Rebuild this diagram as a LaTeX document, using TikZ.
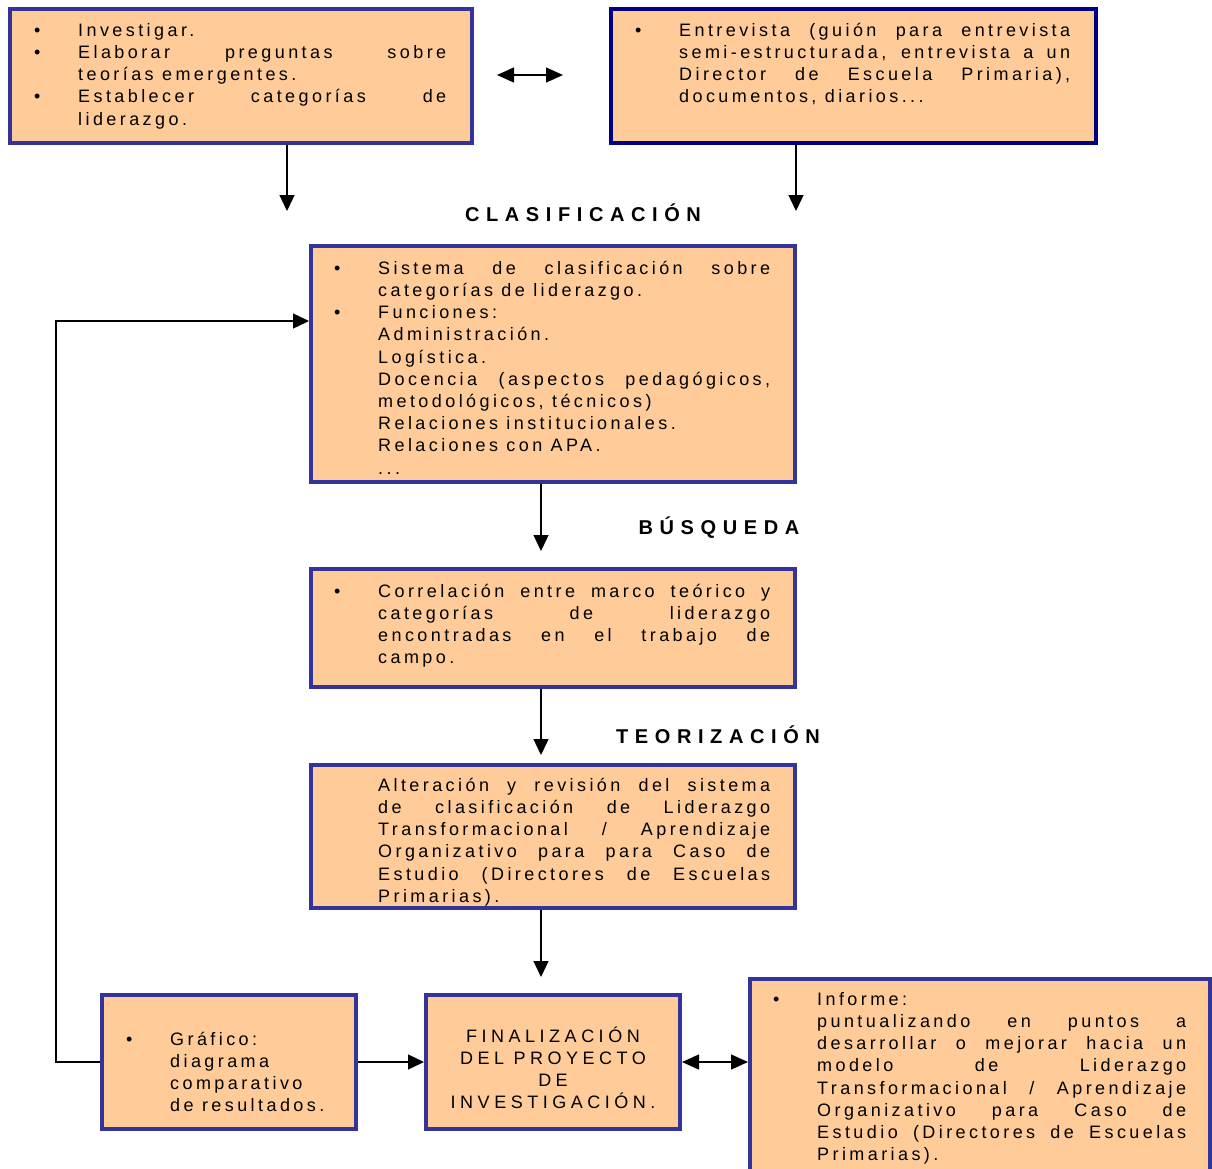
\documentclass[tikz,border=0pt]{standalone}
\usepackage{fontspec}
\setmainfont{Liberation Sans}
\newfontfamily\bodyfont[LetterSpace=19]{Liberation Sans}
\newfontfamily\wideBodyfont[LetterSpace=25]{Liberation Sans}
\newfontfamily\headfont[LetterSpace=33]{Liberation Sans}
\usetikzlibrary{arrows.meta}

\definecolor{peach}{HTML}{FFCC99}
\definecolor{frameblue}{HTML}{333399}
\definecolor{framenavy}{HTML}{000080}

\newlength\lw
% justified line, left-aligned (last) line, and a hanging bullet
\newcommand\jline[1]{\strut\makebox[\lw][s]{#1}}
\newcommand\lline[1]{\strut\makebox[\lw][l]{#1}}
\newcommand\bul{\llap{\makebox[44pt][l]{\textbullet}}}

\tikzset{
  box/.style={draw=frameblue, fill=peach, line width=4pt, rectangle, inner sep=0pt},
  navybox/.style={box, draw=framenavy},
  body/.style={anchor=north west, inner sep=0pt, align=left,
    font=\bodyfont\fontsize{18}{22.2}\selectfont},
  head/.style={anchor=base, inner sep=0pt, font=\headfont\bfseries\fontsize{20}{24}\selectfont},
  arr/.style={line width=1.3pt, -{Triangle[width=15pt,length=16pt]}},
  arrtwo/.style={line width=1.3pt, {Triangle[width=15pt,length=17pt]}-{Triangle[width=15pt,length=17pt]}}
}

\begin{document}
\begin{tikzpicture}[x=1pt, y=-1pt]
\useasboundingbox (0,0) rectangle (1212,1168);
\clip (0,0) rectangle (1212,1168);

% boxes
\node[box, minimum width=462pt, minimum height=134pt] (boxA) at (241,76) {};
\node[navybox, minimum width=485pt, minimum height=134pt] (boxB) at (853.5,76) {};
\node[box, minimum width=484pt, minimum height=236pt] (boxC) at (553,364) {};
\node[box, minimum width=484pt, minimum height=118pt] (boxD) at (553,628) {};
\node[box, minimum width=484pt, minimum height=143pt] (boxE) at (553,836.5) {};
\node[box, minimum width=254pt, minimum height=134pt] (boxG) at (229,1062) {};
\node[box, minimum width=254pt, minimum height=134pt] (boxF) at (553,1062) {};
\node[box, minimum width=460pt, minimum height=241pt] (boxH) at (980,1099.5) {};

% texts
\setlength\lw{368pt}
\node[body] (txtA) at (78,20.5) {%
  \bul\lline{Investigar.}\\
  \bul\jline{Elaborar preguntas sobre}\\
  \lline{teorías emergentes.}\\
  \bul\jline{Establecer categorías de}\\
  \lline{liderazgo.}};

\setlength\lw{391pt}
\node[body] (txtB) at (679,20.5) {%
  \bul\jline{Entrevista (guión para entrevista}\\
  \jline{semi-estructurada, entrevista a un}\\
  \jline{Director de Escuela Primaria),}\\
  \lline{documentos, diarios...}};

\setlength\lw{392pt}
\node[body] (txtC) at (378,258.5) {%
  \bul\jline{Sistema de clasificación sobre}\\
  \lline{categorías de liderazgo.}\\
  \bul\lline{Funciones:}\\
  \lline{Administración.}\\
  \lline{Logística.}\\
  \jline{Docencia (aspectos pedagógicos,}\\
  \lline{metodológicos, técnicos)}\\
  \lline{Relaciones institucionales.}\\
  \lline{Relaciones con APA.}\\
  \lline{...}};

\node[body] (txtD) at (378,581.5) {%
  \bul\jline{Correlación entre marco teórico y}\\
  \jline{categorías de liderazgo}\\
  \jline{encontradas en el trabajo de}\\
  \lline{campo.}};

\node[body] (txtE) at (378,775.5) {%
  \jline{Alteración y revisión del sistema}\\
  \jline{de clasificación de Liderazgo}\\
  \jline{Transformacional / Aprendizaje}\\
  \jline{Organizativo para para Caso de}\\
  \jline{Estudio (Directores de Escuelas}\\
  \lline{Primarias).}};

\setlength\lw{180pt}
\node[body] (txtG) at (170,1029.5) {%
  \bul\lline{Gráfico:}\\
  \lline{diagrama}\\
  \lline{comparativo}\\
  \lline{de resultados.}};

\node[body, anchor=north, align=center, font=\wideBodyfont\fontsize{18}{22.2}\selectfont]
  (txtF) at (553,1026.5) {%
  \strut FINALIZACIÓN\\ DEL PROYECTO\\ DE\\ INVESTIGACIÓN.};

\setlength\lw{369pt}
\node[body] (txtH) at (817,989.5) {%
  \bul\lline{Informe:}\\
  \jline{puntualizando en puntos a}\\
  \jline{desarrollar o mejorar hacia un}\\
  \jline{modelo de Liderazgo}\\
  \jline{Transformacional / Aprendizaje}\\
  \jline{Organizativo para Caso de}\\
  \jline{Estudio (Directores de Escuelas}\\
  \lline{Primarias).}};

% stage headings
\node[head] (hClas) at (583,221) {CLASIFICACIÓN};
\node[head] (hBusq) at (719,534) {BÚSQUEDA};
\node[head] (hTeor) at (718,743) {TEORIZACIÓN};

% connectors
\coordinate (endA) at (287,211);
\coordinate (endB) at (796,211);
\coordinate (dblL) at (497,75);
\coordinate (dblR) at (563,75);
\coordinate (endCD) at (541,551);
\coordinate (endDE) at (541,755);
\coordinate (endEF) at (541,977);
\coordinate (loopTurn) at (56,321);

\draw[arrtwo] (dblL) -- (dblR);
\draw[arr] (boxA.south -| endA) -- (endA);
\draw[arr] (boxB.south -| endB) -- (endB);
\draw[arr] (boxC.south -| endCD) -- (endCD);
\draw[arr] (boxD.south -| endDE) -- (endDE);
\draw[arr] (boxE.south -| endEF) -- (endEF);
\draw[arr] (boxG.east) -- (boxF.west);
\draw[arrtwo] (boxF.east) -- (boxF.east -| boxH.west);
\draw[arr] (boxG.west) -| (loopTurn) -- (loopTurn -| boxC.west);
\end{tikzpicture}
\end{document}
